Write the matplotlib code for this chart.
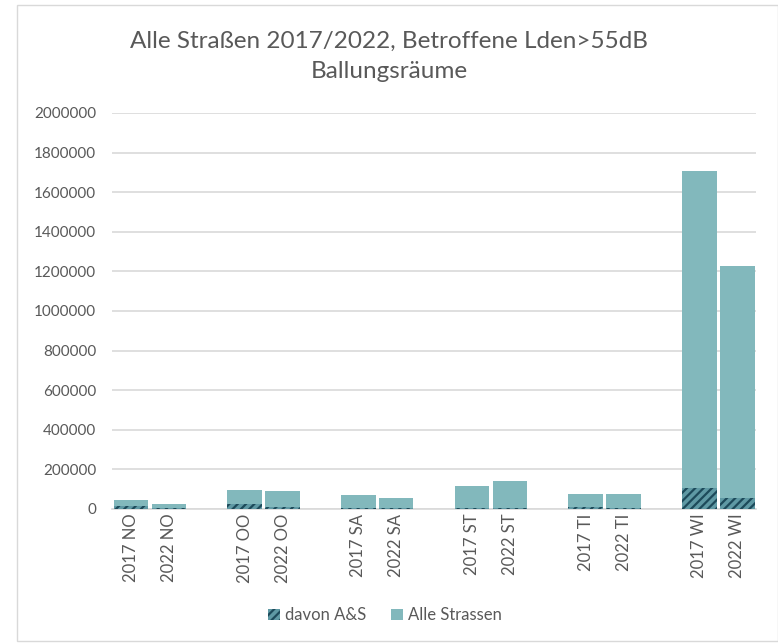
import matplotlib.pyplot as plt
from matplotlib.patches import Rectangle
from matplotlib.ticker import StrMethodFormatter
import numpy as np

# values
labels = ["2017 NO", "2022 NO", "2017 OO", "2022 OO", "2017 SA", "2022 SA",
          "2017 ST", "2022 ST", "2017 TI", "2022 TI", "2017 WI", "2022 WI"]
alle_strassen = [44000, 24000, 96000, 91000, 71000, 57000,
                 116000, 140000, 76000, 76000, 1705000, 1226000]
davon_as = [15000, 5000, 25000, 8000, 7000, 4000,
            6000, 4000, 12000, 6000, 105000, 54000]

teal = "#82b8bc"
dark = "#1d4a5a"
grey_txt = "#595959"

plt.rcParams["font.family"] = ["Lato", "DejaVu Sans"]
plt.rcParams["hatch.linewidth"] = 1.6

fig = plt.figure(figsize=(7.78, 6.43), dpi=100)
ax = fig.add_axes([0.144, 0.2084, 0.828, 0.6159])

# one blank slot after each pair of bars
x = np.array([i + i // 2 for i in range(len(labels))])

ax.bar(x, alle_strassen, width=0.91, color=teal, zorder=2, label="Alle Strassen")
ax.bar(x, davon_as, width=0.91, color="#5f99a4", edgecolor=dark, linewidth=0,
       hatch="////", zorder=3, label="davon A&S")

ax.set_xlim(-0.5, x[-1] + 0.5)
ax.set_ylim(0, 2000000)
ax.set_yticks(np.arange(0, 2000001, 200000))
ax.yaxis.set_major_formatter(StrMethodFormatter("{x:.0f}"))
ax.yaxis.grid(True, color="#d9d9d9", linewidth=1.2, zorder=0)
ax.set_axisbelow(True)
for s in ["top", "right", "left"]:
    ax.spines[s].set_visible(False)
ax.spines["bottom"].set_color("#d9d9d9")
ax.spines["bottom"].set_linewidth(1.2)
ax.tick_params(axis="both", length=0, colors=grey_txt)
ax.tick_params(axis="y", pad=11.5, labelsize=11)
ax.set_xticks(x)
ax.set_xticklabels(labels, rotation=90, fontsize=12)

fig.text(0.5, 0.912, "Alle Straßen 2017/2022, Betroffene Lden>55dB\nBallungsräume",
         ha="center", va="center", fontsize=17.5, color=grey_txt, linespacing=1.55)

handles, lbls = ax.get_legend_handles_labels()
fig.legend(handles[::-1], lbls[::-1], loc="center", bbox_to_anchor=(0.495, 0.043),
           ncol=2, frameon=False, fontsize=12, labelcolor=grey_txt,
           handlelength=0.7, handleheight=0.7, handletextpad=0.3, columnspacing=1.5)

fig.patches.append(Rectangle((0.022, 0.003), 0.978, 0.99, transform=fig.transFigure,
                             fill=False, edgecolor="#d9d9d9", linewidth=1))

fig.savefig("out.png", dpi=100)
